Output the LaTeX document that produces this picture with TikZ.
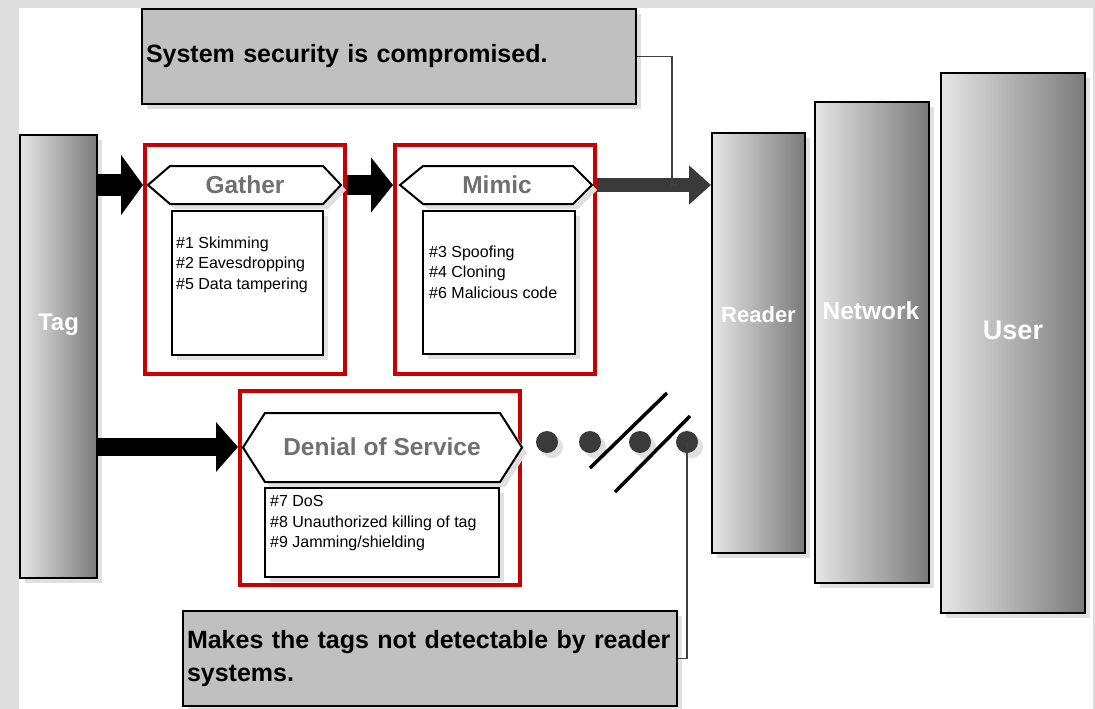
\documentclass[tikz,border=0pt]{standalone}
\usepackage{fontspec}
\setmainfont{Liberation Sans}
\usetikzlibrary{arrows.meta,shadows,positioning}

\definecolor{framered}{HTML}{C80000}
\definecolor{calloutgray}{HTML}{C0C0C0}
\definecolor{dotgray}{HTML}{3A3A3A}
\definecolor{titlegray}{HTML}{707070}
\definecolor{pagegray}{HTML}{DEDEDE}

\tikzset{
  softshadow/.style={drop shadow={shadow xshift=5pt,shadow yshift=-5pt,fill=black!12,opacity=1}},
  pillar/.style={draw=black,line width=2pt,left color=black!10,right color=black!52,
    inner sep=0pt,softshadow},
  pillarlabel/.style={text=white,font=\bfseries\fontsize{#1}{#1}\selectfont,inner sep=0pt},
  callout/.style={draw=black,line width=2pt,fill=calloutgray,softshadow,inner sep=4pt,
    minimum height=95pt,text width=486pt,align=left,
    font=\bfseries\fontsize{25}{33}\selectfont},
  redframe/.style={draw=framered,line width=4pt},
  hexa/.style={draw=black,line width=2pt,fill=white,softshadow},
  title/.style={text=titlegray,font=\bfseries\fontsize{24.5}{26}\selectfont,inner sep=0pt},
  listbox/.style={draw=black,line width=2pt,fill=white,softshadow},
  listtext/.style={anchor=north west,inner sep=0pt,align=left,
    font=\fontsize{16}{20.5}\selectfont},
  bigarrow/.style={line width=#1,-{Triangle[length=22pt,width=2.7*#1]}},
  leader/.style={draw=black!75,line width=1.2pt},
  dot/.style={circle,fill=dotgray,minimum size=22pt,inner sep=0pt,softshadow}
}

\begin{document}
\begin{tikzpicture}[x=1pt,y=-1pt]
  % page
  \fill[pagegray] (0,0) rectangle (1095,709);
  \fill[white] (19,8) rectangle (1093,709);
  \useasboundingbox (0,0) rectangle (1095,709);

  % tag, reader, network, user
  \node[pillar,minimum width=77pt,minimum height=443pt] (tag) at (58.5,356.5) {};
  \node[pillar,minimum width=93pt,minimum height=420pt] (reader) at (758.5,343) {};
  \node[pillar,minimum width=114pt,minimum height=481pt] (network) at (872,342.5) {};
  \node[pillar,minimum width=144pt,minimum height=540pt] (user) at (1013,343) {};
  \node[pillarlabel=24] (taglabel) at (58.5,325) {Tag};
  \node[pillarlabel=22] (readerlabel) at (758.5,315) {Reader};
  \node[pillarlabel=24.5] (networklabel) at (871,311) {Network};
  \node[pillarlabel=27] (userlabel) at (1013,330) {User};

  % callouts
  \node[callout,minimum width=492pt] (topnote) at (389,56.5) {System security is compromised.};
  \node[callout,minimum width=494pt] (bottomnote) at (430,658.5)
    {Makes the tags not detectable by reader\\systems.};

  % gather
  \node[redframe,minimum width=200pt,minimum height=229pt] (gatherframe) at (245,259.5) {};
  \draw[hexa] (148,185) -- (170,166) -- (323,166) -- (341,185) -- (323,204) -- (170,204) -- cycle;
  \node[title] (gathertitle) at (245,185) {Gather};
  \node[listbox,minimum width=151pt,minimum height=144pt] (gatherlist) at (247.5,283) {};
  \node[listtext] (gathertext) at (176,236.5) {\#1 Skimming\\\#2 Eavesdropping\\\#5 Data tampering};

  % mimic
  \node[redframe,minimum width=200pt,minimum height=229pt] (mimicframe) at (495,259.5) {};
  \draw[hexa] (400,185) -- (423,166) -- (573,166) -- (592,185) -- (573,204) -- (423,204) -- cycle;
  \node[title] (mimictitle) at (497,185) {Mimic};
  \node[listbox,minimum width=152pt,minimum height=143pt] (mimiclist) at (499,282.5) {};
  \node[listtext] (mimictext) at (429,245.5) {\#3 Spoofing\\\#4 Cloning\\\#6 Malicious code};

  % denial of service
  \node[redframe,minimum width=280pt,minimum height=194pt] (dosframe) at (380,488) {};
  \draw[hexa] (243,447.5) -- (265,413) -- (500,413) -- (522,447.5) -- (500,482) -- (265,482) -- cycle;
  \node[title] (dostitle) at (382,447) {Denial of Service};
  \node[listbox,minimum width=234pt,minimum height=89pt] (doslist) at (382,532.5) {};
  \node[listtext] (dostext) at (270,495.5) {\#7 DoS\\\#8 Unauthorized killing of tag\\\#9 Jamming/shielding};

  % arrows
  \draw[bigarrow=22pt] (tag.east |- gathertitle) -- (gatherframe.west |- gathertitle);
  \draw[bigarrow=20pt] (gatherframe.east |- gathertitle) -- (mimicframe.west |- mimictitle);
  \draw[bigarrow=14pt,dotgray] (mimicframe.east |- mimictitle) -- (reader.west |- mimictitle);
  \draw[bigarrow=18pt] (tag.east |- dostitle) -- (dosframe.west |- dostitle);

  % broken link
  \foreach \x [count=\i] in {547,590,640,687}
    \node[dot] (dot\i) at (\x,442) {};
  \draw[line width=3.5pt] (590,468) -- (667,393);
  \draw[line width=3.5pt] (615,492) -- (690,416);

  % leaders
  \coordinate (tophook) at (678,185);
  \draw[leader] (topnote.east) -| ([xshift=-6pt]tophook) -- (tophook);
  \draw[leader] (dot4.center) |- (bottomnote.east);
\end{tikzpicture}
\end{document}
